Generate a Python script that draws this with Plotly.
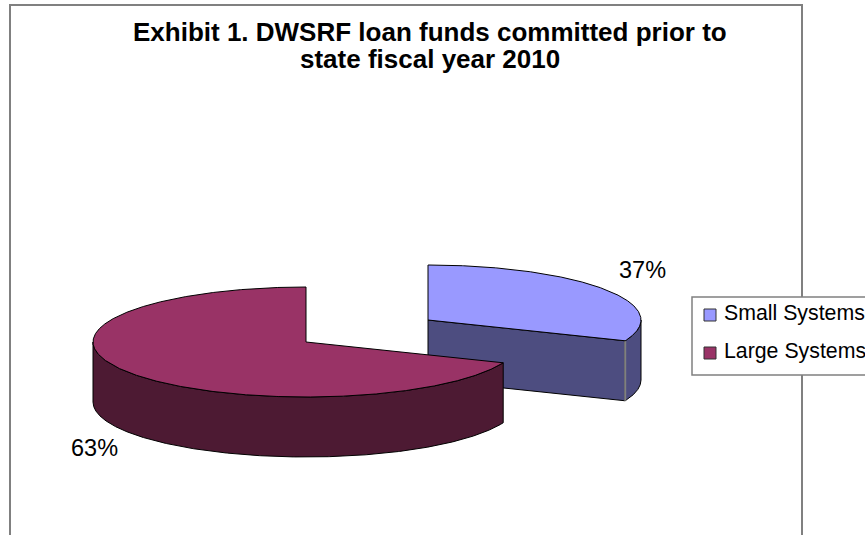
import numpy as np
import plotly.graph_objects as go

# ---- data ----
categories = ["Small Systems", "Large Systems"]
shares = [37, 63]
title_lines = ["Exhibit 1. DWSRF loan funds committed prior to", "state fiscal year 2010"]

top_colors = ["#9999FF", "#993366"]
side_colors = ["#4D4D80", "#4D1A33"]

# ---- view of the 3-D pie (page pixels) ----
W, H = 865, 535
RX, RY, DEPTH = 213, 55, 60
WARP = 2.3
centers = [(428, 320), (306, 342)]
FONT = "Liberation Sans, Arial, sans-serif"


def project(theta, c):
    t = np.arctan2(WARP * np.sin(theta), np.cos(theta)) % (2 * np.pi)
    return t, c[0] + RX * np.sin(t), c[1] - RY * np.cos(t)


fig = go.Figure()


def poly(xs, ys, fill, line="#000000", lw=1):
    fig.add_trace(go.Scatter(x=xs, y=ys, mode="lines", fill="toself", fillcolor=fill,
                             line=dict(color=line, width=lw), hoverinfo="skip", showlegend=False))


total = sum(shares)
start = 0.0
slices = []
for share, c in zip(shares, centers):
    span = share / total * 2 * np.pi
    slices.append((start, start + span, c))
    start += span

for i, (a, b, c) in enumerate(slices):
    theta = np.linspace(a, b - 1e-6, 1500)
    t, x, y = project(theta, c)
    # radial face at the clockwise end of the slice, when it faces the viewer
    if i == 0:
        poly([c[0], x[-1], x[-1], c[0], c[0]],
             [c[1], y[-1], y[-1] + DEPTH, c[1] + DEPTH, c[1]], side_colors[i])
    # outer rim
    vis = (t >= np.pi / 2) & (t <= 3 * np.pi / 2)
    rx, ry = x[vis], y[vis]
    poly(np.r_[rx, rx[::-1], rx[0]], np.r_[ry, ry[::-1] + DEPTH, ry[0]], side_colors[i])
    if i == 0:
        fig.add_trace(go.Scatter(x=[x[-1], x[-1]], y=[y[-1], y[-1] + DEPTH], mode="lines",
                                 line=dict(color="#808080", width=2), hoverinfo="skip", showlegend=False))
    # top face
    poly(np.r_[c[0], x, c[0]], np.r_[c[1], y, c[1]], top_colors[i])

# legend swatches
fig.add_trace(go.Scatter(x=[710, 710], y=[315, 353], mode="markers",
                         marker=dict(symbol="square", size=12, color=top_colors,
                                     line=dict(color="#333333", width=1)),
                         hoverinfo="skip", showlegend=False))

shapes = [
    dict(type="rect", xref="x", yref="y", x0=10, x1=802, y0=5, y1=H + 10,
         line=dict(color="#808080", width=2), fillcolor="white", layer="below"),
    dict(type="rect", xref="x", yref="y", x0=692, x1=W + 10, y0=297, y1=375,
         line=dict(color="#808080", width=1.5), fillcolor="white", layer="below"),
]


def text(x, y, s, size, bold=False, anchor="center"):
    return dict(x=x, y=y, xref="x", yref="y", text=f"<b>{s}</b>" if bold else s, showarrow=False,
                xanchor=anchor, yanchor="middle",
                font=dict(family=FONT, size=size, color="#000000"))


annotations = [
    text(430, 32, title_lines[0], 26, True),
    text(430, 59, title_lines[1], 26, True),
    text(642, 270, f"{shares[0]}%", 23.5),
    text(94, 448, f"{shares[1]}%", 23.5),
    text(722, 313, categories[0], 21.3, anchor="left"),
    text(722, 351, categories[1], 21.3, anchor="left"),
]

fig.update_layout(
    width=W, height=H, margin=dict(l=0, r=0, t=0, b=0),
    paper_bgcolor="white", plot_bgcolor="white", shapes=shapes, annotations=annotations,
    xaxis=dict(range=[0, W], visible=False, fixedrange=True),
    yaxis=dict(range=[H, 0], visible=False, fixedrange=True),
    showlegend=False,
)
fig.write_html("out.html", config=dict(displayModeBar=False),
               post_script="document.body.style.margin='0';document.body.style.overflow='hidden';")
